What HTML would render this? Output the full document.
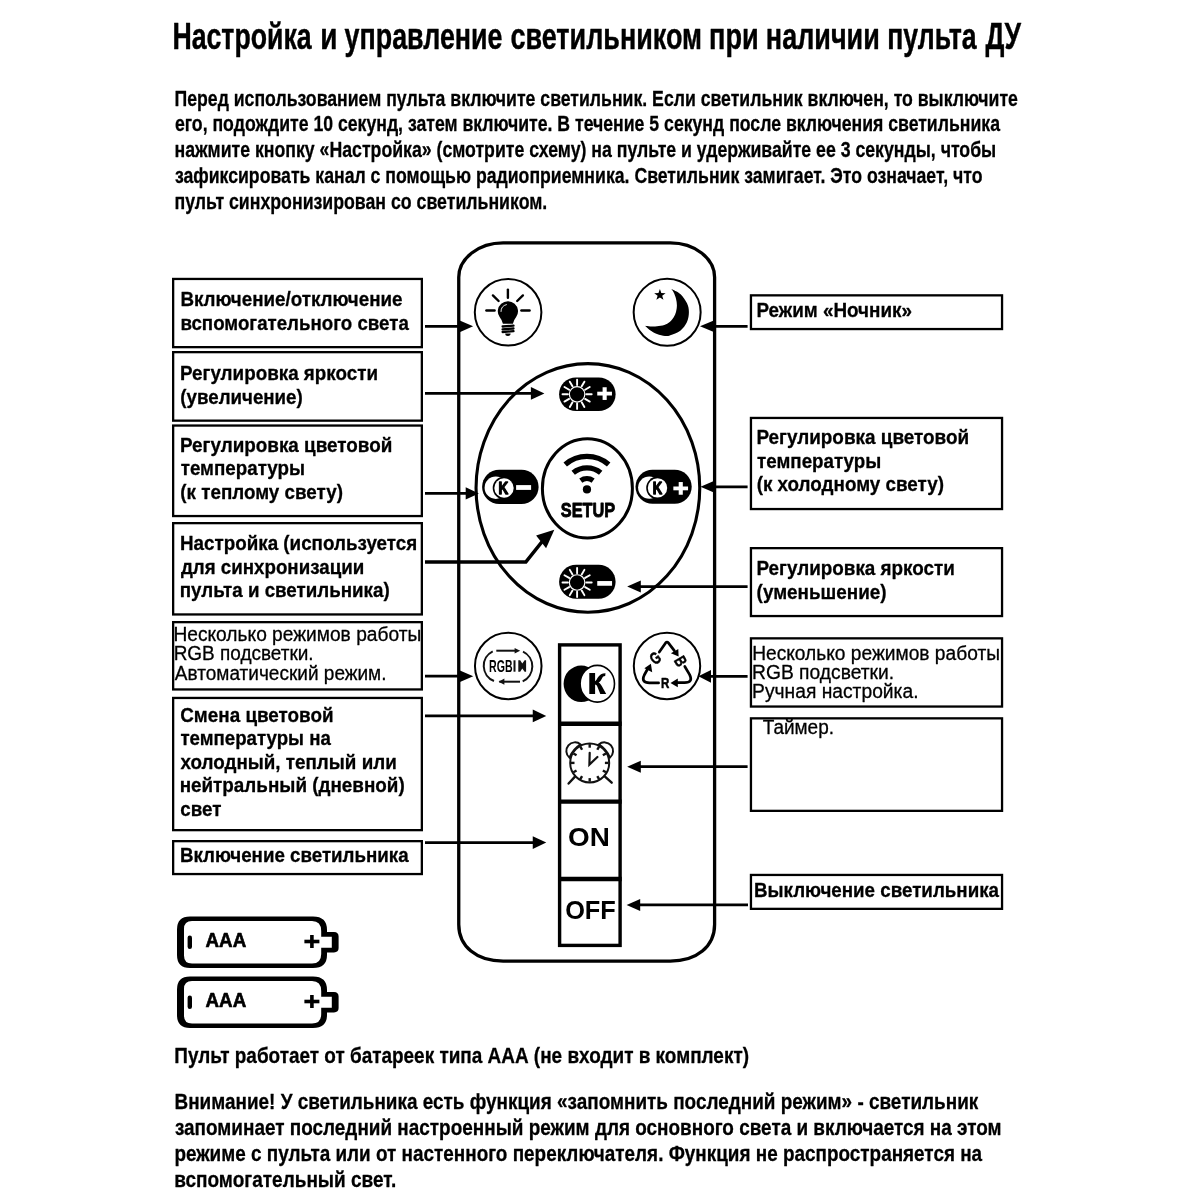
<!DOCTYPE html>
<html lang="ru"><head><meta charset="utf-8"><title>Настройка пульта ДУ</title>
<style>
html,body{margin:0;padding:0;background:#fff;}
body{width:1200px;height:1200px;overflow:hidden;font-family:"Liberation Sans",sans-serif;}
svg{display:block;position:absolute;left:0;top:0;will-change:transform;}
svg text{font-family:"Liberation Sans",sans-serif;fill:#000;}
</style></head><body>
<svg width="1200" height="1200" viewBox="0 0 1200 1200">
<rect width="1200" height="1200" fill="#fff"/>
<g id="boxes">
<rect x="173.15" y="278.95" width="248.70" height="68.20" fill="none" stroke="#000" stroke-width="2.3"/>
<rect x="173.15" y="352.15" width="248.70" height="68.50" fill="none" stroke="#000" stroke-width="2.3"/>
<rect x="173.15" y="425.55" width="248.70" height="90.50" fill="none" stroke="#000" stroke-width="2.3"/>
<rect x="173.15" y="523.15" width="248.70" height="91.30" fill="none" stroke="#000" stroke-width="2.3"/>
<rect x="173.15" y="622.15" width="248.70" height="67.30" fill="none" stroke="#000" stroke-width="2.3"/>
<rect x="173.15" y="697.95" width="248.70" height="132.20" fill="none" stroke="#000" stroke-width="2.3"/>
<rect x="173.15" y="841.15" width="248.70" height="32.90" fill="none" stroke="#000" stroke-width="2.3"/>
<rect x="750.95" y="295.35" width="251.10" height="33.70" fill="none" stroke="#000" stroke-width="2.3"/>
<rect x="750.95" y="417.95" width="251.10" height="91.10" fill="none" stroke="#000" stroke-width="2.3"/>
<rect x="750.95" y="548.15" width="251.10" height="67.90" fill="none" stroke="#000" stroke-width="2.3"/>
<rect x="750.95" y="638.35" width="251.10" height="68.20" fill="none" stroke="#000" stroke-width="2.3"/>
<rect x="750.95" y="718.35" width="251.10" height="92.50" fill="none" stroke="#000" stroke-width="2.3"/>
<rect x="750.95" y="874.95" width="251.10" height="33.90" fill="none" stroke="#000" stroke-width="2.3"/>
</g>
<g id="remote">
<path d="M458.75 277.3A44.4 34.4 0 0 1 503.15 242.9H670.2A44.4 34.4 0 0 1 714.6 277.3V924.4499999999999C714.6 946.41 696.84 961.05 670.2 961.05H503.15C476.51 961.05 458.75 946.41 458.75 924.4499999999999Z" fill="none" stroke="#000" stroke-width="3.3"/>
<circle cx="508.1" cy="312.3" r="33.3" fill="#fff" stroke="#000" stroke-width="2"/>
<circle cx="667.15" cy="312.35" r="33.5" fill="#fff" stroke="#000" stroke-width="2"/>
<ellipse cx="587.9" cy="487.9" rx="111.85" ry="124.3" fill="none" stroke="#000" stroke-width="3.1"/>
<ellipse cx="587.4" cy="488.4" rx="45" ry="49.6" fill="none" stroke="#000" stroke-width="3"/>
<rect x="559.1" y="377.4" width="56.50" height="33.70" rx="16.85" fill="#000"/>
<rect x="482.1" y="469.8" width="56.50" height="34.20" rx="17.10" fill="#000"/>
<rect x="635.5" y="469.8" width="56.20" height="34.00" rx="17.00" fill="#000"/>
<rect x="559.1" y="564.8" width="56.50" height="34.00" rx="17.00" fill="#000"/>
<circle cx="508.25" cy="666" r="33.3" fill="#fff" stroke="#000" stroke-width="2"/>
<circle cx="667" cy="665.95" r="33.2" fill="#fff" stroke="#000" stroke-width="2"/>
<rect x="559.6" y="644.9" width="60.5" height="300.5" fill="none" stroke="#000" stroke-width="3.4"/>
<path d="M558 723.75H621.7" stroke="#000" stroke-width="4.4"/>
<path d="M558 801.6H621.7" stroke="#000" stroke-width="4.4"/>
<path d="M558 879H621.7" stroke="#000" stroke-width="4.4"/>
</g>
<g id="arrows">
<path d="M425 326.3H460.1" stroke="#000" stroke-width="2.7" fill="none"/><path d="M473.1 326.3L459.1 320.2V332.40000000000003Z" fill="#000"/>
<path d="M425 393.4H531.9" stroke="#000" stroke-width="2.7" fill="none"/><path d="M544.4 393.4L530.9 387.0V399.79999999999995Z" fill="#000"/>
<path d="M425 493.4H466.7" stroke="#000" stroke-width="2.7" fill="none"/><path d="M478.9 493.4L465.7 487.2V499.59999999999997Z" fill="#000"/>
<path d="M425 562H525.8L543 540.5" stroke="#000" stroke-width="3.6" fill="none" stroke-linejoin="miter"/>
<path d="M554.3 529.8L536.1 535.5L546.1 548.3Z" fill="#000"/>
<path d="M425 676.2H459.75" stroke="#000" stroke-width="2.7" fill="none"/><path d="M473.25 676.2L458.75 669.9000000000001V682.5Z" fill="#000"/>
<path d="M425 715.9H533.75" stroke="#000" stroke-width="2.7" fill="none"/><path d="M546.25 715.9L532.75 709.5V722.3Z" fill="#000"/>
<path d="M425 842.6H533.75" stroke="#000" stroke-width="2.7" fill="none"/><path d="M546.25 842.6L532.75 836.2V849.0Z" fill="#000"/>
<path d="M747.6 326.3H714" stroke="#000" stroke-width="2.7" fill="none"/><path d="M700 326.3L715 320.0V332.6Z" fill="#000"/>
<path d="M747.6 486.8H714.0" stroke="#000" stroke-width="2.7" fill="none"/><path d="M700.5 486.8L715.0 480.5V493.1Z" fill="#000"/>
<path d="M747.6 586.6H639.8000000000001" stroke="#000" stroke-width="2.7" fill="none"/><path d="M627.2 586.6L640.8000000000001 580.6V592.6Z" fill="#000"/>
<path d="M747.6 676.3H710.0" stroke="#000" stroke-width="2.7" fill="none"/><path d="M698.4 676.3L711.0 669.9V682.6999999999999Z" fill="#000"/>
<path d="M747.6 766.7H639.8000000000001" stroke="#000" stroke-width="2.7" fill="none"/><path d="M627.2 766.7L640.8000000000001 760.7V772.7Z" fill="#000"/>
<path d="M748 904.9H639.2" stroke="#000" stroke-width="2.7" fill="none"/><path d="M626.6 904.9L640.2 898.9V910.9Z" fill="#000"/>
</g>
<g id="icons">
<g id="bulb">
<path d="M499.63 317.09000000000003A10.1 10.1 0 1 1 516.17 317.09000000000003Q513.5 320.5 512.9 323.8H502.9Q502.29999999999995 320.5 499.63 317.09000000000003Z" fill="#000"/>
<path d="M501.0 311.5a7 7 0 0 1 5.4-6.9" stroke="#fff" stroke-width="0.9" fill="none" stroke-linecap="round"/>
<path d="M502.59999999999997 326.5L513.5 325.70000000000005" stroke="#000" stroke-width="2.3" stroke-linecap="round"/>
<path d="M502.59999999999997 329.29999999999995L513.5 328.5" stroke="#000" stroke-width="2.3" stroke-linecap="round"/>
<path d="M502.59999999999997 332.0L513.5 331.20000000000005" stroke="#000" stroke-width="2.3" stroke-linecap="round"/>
<path d="M505.2 333.4h5.4a2.7 2.5 0 0 1-5.4 0z" fill="#000"/>
<path d="M507.9 289.6L507.9 297.8" stroke="#000" stroke-width="2.4" stroke-linecap="round"/>
<path d="M492.9 295.4L498.6 301.0" stroke="#000" stroke-width="2.4" stroke-linecap="round"/>
<path d="M522.9 295.4L517.2 301.0" stroke="#000" stroke-width="2.4" stroke-linecap="round"/>
<path d="M486.4 310.5L494.6 310.5" stroke="#000" stroke-width="2.4" stroke-linecap="round"/>
<path d="M521.4 310.5L529.6 310.5" stroke="#000" stroke-width="2.4" stroke-linecap="round"/>
</g>
<g id="moon">
<path d="M671.30 289.00C672.80 289.83 677.68 291.62 680.30 294.00C682.92 296.38 685.57 300.30 687.00 303.30C688.43 306.30 688.90 308.88 688.90 312.00C688.90 315.12 688.43 318.88 687.00 322.00C685.57 325.12 683.08 328.48 680.30 330.70C677.52 332.92 672.85 334.42 670.30 335.30C667.75 336.18 667.22 336.22 665.00 336.00C662.78 335.78 659.55 335.00 657.00 334.00C654.45 333.00 651.70 331.37 649.70 330.00C647.70 328.63 645.78 326.50 645.00 325.80L645.00 325.80C645.88 325.90 648.30 326.32 650.30 326.40C652.30 326.48 654.67 326.53 657.00 326.30C659.33 326.07 662.18 325.72 664.30 325.00C666.42 324.28 668.13 323.28 669.70 322.00C671.27 320.72 672.65 318.97 673.70 317.30C674.75 315.63 675.47 314.00 676.00 312.00C676.53 310.00 676.90 307.52 676.90 305.30C676.90 303.08 676.53 300.83 676.00 298.70C675.47 296.57 674.48 294.12 673.70 292.50C672.92 290.88 671.70 289.58 671.30 289.00Z" fill="#000"/>
<polygon points="659.90,289.00 661.31,293.06 665.61,293.15 662.18,295.74 663.43,299.85 659.90,297.40 656.37,299.85 657.62,295.74 654.19,293.15 658.49,293.06" fill="#000"/>
</g>
<g id="pills">
<circle cx="577.1" cy="394.3" r="7.75" fill="none" stroke="#fff" stroke-width="1.2"/><path d="M586.30 394.30L591.70 394.30" stroke="#fff" stroke-width="1.9" stroke-linecap="round"/><path d="M585.07 398.90L589.74 401.60" stroke="#fff" stroke-width="1.9" stroke-linecap="round"/><path d="M581.70 402.27L584.40 406.94" stroke="#fff" stroke-width="1.9" stroke-linecap="round"/><path d="M577.10 403.50L577.10 408.90" stroke="#fff" stroke-width="1.9" stroke-linecap="round"/><path d="M572.50 402.27L569.80 406.94" stroke="#fff" stroke-width="1.9" stroke-linecap="round"/><path d="M569.13 398.90L564.46 401.60" stroke="#fff" stroke-width="1.9" stroke-linecap="round"/><path d="M567.90 394.30L562.50 394.30" stroke="#fff" stroke-width="1.9" stroke-linecap="round"/><path d="M569.13 389.70L564.46 387.00" stroke="#fff" stroke-width="1.9" stroke-linecap="round"/><path d="M572.50 386.33L569.80 381.66" stroke="#fff" stroke-width="1.9" stroke-linecap="round"/><path d="M577.10 385.10L577.10 379.70" stroke="#fff" stroke-width="1.9" stroke-linecap="round"/><path d="M581.70 386.33L584.40 381.66" stroke="#fff" stroke-width="1.9" stroke-linecap="round"/><path d="M585.07 389.70L589.74 387.00" stroke="#fff" stroke-width="1.9" stroke-linecap="round"/>
<rect x="597.25" y="391.70" width="14.7" height="3.8" fill="#fff"/><rect x="602.60" y="387.25" width="4.1" height="12.7" fill="#fff"/>
<circle cx="577.1" cy="582.5" r="7.75" fill="none" stroke="#fff" stroke-width="1.2"/><path d="M586.30 582.50L591.70 582.50" stroke="#fff" stroke-width="1.9" stroke-linecap="round"/><path d="M585.07 587.10L589.74 589.80" stroke="#fff" stroke-width="1.9" stroke-linecap="round"/><path d="M581.70 590.47L584.40 595.14" stroke="#fff" stroke-width="1.9" stroke-linecap="round"/><path d="M577.10 591.70L577.10 597.10" stroke="#fff" stroke-width="1.9" stroke-linecap="round"/><path d="M572.50 590.47L569.80 595.14" stroke="#fff" stroke-width="1.9" stroke-linecap="round"/><path d="M569.13 587.10L564.46 589.80" stroke="#fff" stroke-width="1.9" stroke-linecap="round"/><path d="M567.90 582.50L562.50 582.50" stroke="#fff" stroke-width="1.9" stroke-linecap="round"/><path d="M569.13 577.90L564.46 575.20" stroke="#fff" stroke-width="1.9" stroke-linecap="round"/><path d="M572.50 574.53L569.80 569.86" stroke="#fff" stroke-width="1.9" stroke-linecap="round"/><path d="M577.10 573.30L577.10 567.90" stroke="#fff" stroke-width="1.9" stroke-linecap="round"/><path d="M581.70 574.53L584.40 569.86" stroke="#fff" stroke-width="1.9" stroke-linecap="round"/><path d="M585.07 577.90L589.74 575.20" stroke="#fff" stroke-width="1.9" stroke-linecap="round"/>
<rect x="597.25" y="581.05" width="14.8" height="4.7" fill="#fff"/>
<circle cx="495.8" cy="487.7" r="11.2" fill="#fff"/><circle cx="504.0" cy="488.0" r="11.3" fill="#000"/><circle cx="504.0" cy="488.0" r="9.7" fill="#fff"/>
<rect x="516.10" y="485.10" width="15" height="4.8" fill="#fff"/>
<circle cx="649.3" cy="487.6" r="11.2" fill="#fff"/><circle cx="657.5" cy="487.90000000000003" r="11.3" fill="#000"/><circle cx="657.5" cy="487.90000000000003" r="9.7" fill="#fff"/>
<rect x="673.35" y="486.50" width="14.7" height="3.8" fill="#fff"/><rect x="678.70" y="482.05" width="4.1" height="12.7" fill="#fff"/>
</g>
<g id="wifi" fill="none" stroke="#000" stroke-width="5.3">
<path d="M565.23 464.42A33.1 33.1 0 0 1 608.67 464.42"/>
<path d="M573.21 472.73A21.6 21.6 0 0 1 600.69 472.73"/>
<path d="M580.76 480.55A10.8 10.8 0 0 1 593.14 480.55"/>
</g>
<circle cx="586.95" cy="489.4" r="4.1" fill="#000"/>
<g id="rgbauto" stroke="#111" fill="none" stroke-width="2">
<path d="M496.3 650.7H517"/>
<path d="M499.3 681.7H520" />
<path d="M492.7 651.3A16.3 16.3 0 0 0 494 681"/>
<path d="M523 651.7A16.3 16.3 0 0 1 522.7 681.3"/>
</g>
<path d="M520.2 650.7L514.6 647.9V653.5Z" fill="#111"/>
<path d="M498.6 681.7L504.4 678.6V684.8Z" fill="#111"/>
<rect x="513.5" y="660.3" width="2" height="11.4" fill="#111"/>
<path d="M518.3 660.3H520.2L522.3 663.6L524.6 660.3H526.1V671.7H524.6L522.3 668.4L520.2 671.7H518.3Z" fill="#111"/>
<g id="rgbman" stroke="#000" fill="none" stroke-width="2.7" stroke-linejoin="round" stroke-linecap="round">
<path d="M659.3 652.1L665.6 642.9Q667 641.2 668.4 642.9L674.3 650.6"/>
<path d="M684.8 666.5L689.6 674.6Q693.6 682.6 684.5 682.7H677"/>
<path d="M658.6 682.9H649.5Q640.6 682.6 644.3 675L647.6 669"/>
</g>
<text transform="translate(655.3 658) rotate(-38) scale(0.74 1)" x="0" y="5.7" text-anchor="middle" font-size="16.5" font-weight="bold" stroke="#000" stroke-width="0.5">G</text>
<text transform="translate(680.7 661.3) rotate(60) scale(0.74 1)" x="0" y="5.7" text-anchor="middle" font-size="16.5" font-weight="bold" stroke="#000" stroke-width="0.5">B</text>
<path d="M678.6 656.6L670.9 653.2L678.3 648.9Z" fill="#000"/>
<path d="M670.5 682.9L677.8 678.6V687.2Z" fill="#000"/>
<path d="M650.9 663.7L652.2 672.3L644.4 668.2Z" fill="#000"/>
<g id="kbig">
<ellipse cx="581.2" cy="683.8" rx="17.6" ry="18.3" fill="#000"/>
<ellipse cx="597.3" cy="683.75" rx="17.2" ry="18.4" fill="#fff" stroke="#000" stroke-width="1.6"/>
<path d="M589.3 673H595.1V681.2C597.6 679.8 598 673.2 605.5 673.2L605.2 675.9C601.2 676 602.4 680.6 598.6 682.6C601 683.4 603.4 689.4 606.2 693.9H600.3L597.3 686.6C596.6 685.2 595.9 684.7 595.1 684.6V693.9H589.3Z" fill="#000"/>
</g>
<g id="clock" stroke="#111" fill="none" stroke-width="2" stroke-linecap="round">
<path d="M569.4 757.6A8.4 8.4 0 0 1 580.6 744.4Q573.2 749 569.4 757.6Z" fill="#fff"/>
<path d="M610.0 757.6A8.4 8.4 0 0 0 598.8 744.4Q606.2 749 610.0 757.6Z" fill="#fff"/>
<circle cx="589.7" cy="762.9" r="19.5" fill="#fff"/>
<path d="M608.50 762.90L604.90 762.90" stroke-width="2.4" stroke-linecap="butt"/>
<path d="M605.98 772.30L602.86 770.50" stroke-width="2.4" stroke-linecap="butt"/>
<path d="M599.10 779.18L597.30 776.06" stroke-width="2.4" stroke-linecap="butt"/>
<path d="M589.70 781.70L589.70 778.10" stroke-width="2.4" stroke-linecap="butt"/>
<path d="M580.30 779.18L582.10 776.06" stroke-width="2.4" stroke-linecap="butt"/>
<path d="M573.42 772.30L576.54 770.50" stroke-width="2.4" stroke-linecap="butt"/>
<path d="M570.90 762.90L574.50 762.90" stroke-width="2.4" stroke-linecap="butt"/>
<path d="M573.42 753.50L576.54 755.30" stroke-width="2.4" stroke-linecap="butt"/>
<path d="M580.30 746.62L582.10 749.74" stroke-width="2.4" stroke-linecap="butt"/>
<path d="M589.70 744.10L589.70 747.70" stroke-width="2.4" stroke-linecap="butt"/>
<path d="M599.10 746.62L597.30 749.74" stroke-width="2.4" stroke-linecap="butt"/>
<path d="M605.98 753.50L602.86 755.30" stroke-width="2.4" stroke-linecap="butt"/>
<path d="M589.7 752.8L589.4 764.6L597.4 757" stroke-width="2.2" stroke-linejoin="miter"/>
<path d="M575 776.6L568.6 783.5" stroke-width="2.4"/>
<path d="M605 776.6L611.7 782.7" stroke-width="2.4"/>
</g>
<g id="batt">
<path d="M190 916.6H313Q327 916.6 327 930V932H334Q338.6 932 338.6 936.6V948Q338.6 952.4 334 952.4H327V955Q327 968 313 968H190Q177 968 177 955V929.6Q177 916.6 190 916.6Z" fill="#000"/><path d="M192 921H312Q321.2 921 321.2 931V936.8H331.8V947.8H321.2V954Q321.2 963.6 312 963.6H192Q184 963.6 184 955.6V929Q184 921 192 921Z" fill="#fff"/><rect x="187.6" y="935.6" width="4.4" height="13.4" rx="2.2" fill="#000"/><rect x="304.4" y="939.7" width="15" height="3.6" fill="#000"/><rect x="310.1" y="935" width="3.6" height="13" fill="#000"/>
<path d="M190 976.6H313Q327 976.6 327 990V992H334Q338.6 992 338.6 996.6V1008Q338.6 1012.4 334 1012.4H327V1015Q327 1028 313 1028H190Q177 1028 177 1015V989.6Q177 976.6 190 976.6Z" fill="#000"/><path d="M192 981H312Q321.2 981 321.2 991V996.8H331.8V1007.8H321.2V1014Q321.2 1023.6 312 1023.6H192Q184 1023.6 184 1015.6V989Q184 981 192 981Z" fill="#fff"/><rect x="187.6" y="995.6" width="4.4" height="13.4" rx="2.2" fill="#000"/><rect x="304.4" y="999.7" width="15" height="3.6" fill="#000"/><rect x="310.1" y="995" width="3.6" height="13" fill="#000"/>
</g>
</g>
<g id="texts">
<text x="172.41" y="48.80" font-size="37.8" textLength="139.20" lengthAdjust="spacingAndGlyphs" font-weight="bold" stroke="#000" stroke-width="0.45" stroke-linejoin="round">Настройка</text>
<text x="320.13" y="48.80" font-size="37.8" textLength="17.23" lengthAdjust="spacingAndGlyphs" font-weight="bold" stroke="#000" stroke-width="0.45" stroke-linejoin="round">и</text>
<text x="344.57" y="48.80" font-size="37.8" textLength="157.99" lengthAdjust="spacingAndGlyphs" font-weight="bold" stroke="#000" stroke-width="0.45" stroke-linejoin="round">управление</text>
<text x="510.48" y="48.80" font-size="37.8" textLength="191.56" lengthAdjust="spacingAndGlyphs" font-weight="bold" stroke="#000" stroke-width="0.45" stroke-linejoin="round">светильником</text>
<text x="709.02" y="48.80" font-size="37.8" textLength="49.63" lengthAdjust="spacingAndGlyphs" font-weight="bold" stroke="#000" stroke-width="0.45" stroke-linejoin="round">при</text>
<text x="765.86" y="48.80" font-size="37.8" textLength="113.86" lengthAdjust="spacingAndGlyphs" font-weight="bold" stroke="#000" stroke-width="0.45" stroke-linejoin="round">наличии</text>
<text x="887.28" y="48.80" font-size="37.8" textLength="89.42" lengthAdjust="spacingAndGlyphs" font-weight="bold" stroke="#000" stroke-width="0.45" stroke-linejoin="round">пульта</text>
<text x="985.42" y="48.80" font-size="37.8" textLength="35.71" lengthAdjust="spacingAndGlyphs" font-weight="bold" stroke="#000" stroke-width="0.45" stroke-linejoin="round">ДУ</text>
<text x="174.54" y="105.50" font-size="22.8" textLength="843.40" lengthAdjust="spacingAndGlyphs" font-weight="bold" stroke="#000" stroke-width="0.3" stroke-linejoin="round">Перед использованием пульта включите светильник. Если светильник включен, то выключите</text>
<text x="174.93" y="131.40" font-size="22.8" textLength="825.05" lengthAdjust="spacingAndGlyphs" font-weight="bold" stroke="#000" stroke-width="0.3" stroke-linejoin="round">его, подождите 10 секунд, затем включите. В течение 5 секунд после включения светильника</text>
<text x="174.52" y="157.00" font-size="22.8" textLength="821.69" lengthAdjust="spacingAndGlyphs" font-weight="bold" stroke="#000" stroke-width="0.3" stroke-linejoin="round">нажмите кнопку «Настройка» (смотрите схему) на пульте и удерживайте ее 3 секунды, чтобы</text>
<text x="174.88" y="182.80" font-size="22.8" textLength="807.67" lengthAdjust="spacingAndGlyphs" font-weight="bold" stroke="#000" stroke-width="0.3" stroke-linejoin="round">зафиксировать канал с помощью радиоприемника. Светильник замигает. Это означает, что</text>
<text x="174.50" y="208.60" font-size="22.8" textLength="372.74" lengthAdjust="spacingAndGlyphs" font-weight="bold" stroke="#000" stroke-width="0.3" stroke-linejoin="round">пульт синхронизирован со светильником.</text>
<text x="180.43" y="305.80" font-size="21" textLength="222.11" lengthAdjust="spacingAndGlyphs" font-weight="bold" stroke="#000" stroke-width="0.3" stroke-linejoin="round">Включение/отключение</text>
<text x="180.43" y="329.60" font-size="21" textLength="228.37" lengthAdjust="spacingAndGlyphs" font-weight="bold" stroke="#000" stroke-width="0.3" stroke-linejoin="round">вспомогательного света</text>
<text x="179.98" y="380.00" font-size="21" textLength="198.07" lengthAdjust="spacingAndGlyphs" font-weight="bold" stroke="#000" stroke-width="0.3" stroke-linejoin="round">Регулировка яркости</text>
<text x="180.35" y="403.75" font-size="21" textLength="122.37" lengthAdjust="spacingAndGlyphs" font-weight="bold" stroke="#000" stroke-width="0.3" stroke-linejoin="round">(увеличение)</text>
<text x="179.96" y="451.50" font-size="21" textLength="212.37" lengthAdjust="spacingAndGlyphs" font-weight="bold" stroke="#000" stroke-width="0.3" stroke-linejoin="round">Регулировка цветовой</text>
<text x="180.70" y="474.50" font-size="21" textLength="124.30" lengthAdjust="spacingAndGlyphs" font-weight="bold" stroke="#000" stroke-width="0.3" stroke-linejoin="round">температуры</text>
<text x="180.31" y="498.75" font-size="21" textLength="162.64" lengthAdjust="spacingAndGlyphs" font-weight="bold" stroke="#000" stroke-width="0.3" stroke-linejoin="round">(к теплому свету)</text>
<text x="179.98" y="550.40" font-size="21" textLength="237.24" lengthAdjust="spacingAndGlyphs" font-weight="bold" stroke="#000" stroke-width="0.3" stroke-linejoin="round">Настройка (используется</text>
<text x="180.93" y="573.75" font-size="21" textLength="183.28" lengthAdjust="spacingAndGlyphs" font-weight="bold" stroke="#000" stroke-width="0.3" stroke-linejoin="round">для синхронизации</text>
<text x="179.71" y="597.00" font-size="21" textLength="209.97" lengthAdjust="spacingAndGlyphs" font-weight="bold" stroke="#000" stroke-width="0.3" stroke-linejoin="round">пульта и светильника)</text>
<text x="173.42" y="640.70" font-size="20" textLength="247.84" lengthAdjust="spacingAndGlyphs" stroke="#000" stroke-width="0.3" stroke-linejoin="round">Несколько режимов работы</text>
<text x="173.66" y="660.20" font-size="20" textLength="139.95" lengthAdjust="spacingAndGlyphs" stroke="#000" stroke-width="0.3" stroke-linejoin="round">RGB подсветки.</text>
<text x="174.87" y="679.70" font-size="20" textLength="211.61" lengthAdjust="spacingAndGlyphs" stroke="#000" stroke-width="0.3" stroke-linejoin="round">Автоматический режим.</text>
<text x="180.22" y="722.10" font-size="21" textLength="153.33" lengthAdjust="spacingAndGlyphs" font-weight="bold" stroke="#000" stroke-width="0.3" stroke-linejoin="round">Смена цветовой</text>
<text x="180.48" y="745.40" font-size="21" textLength="150.34" lengthAdjust="spacingAndGlyphs" font-weight="bold" stroke="#000" stroke-width="0.3" stroke-linejoin="round">температуры на</text>
<text x="180.51" y="769.00" font-size="21" textLength="216.20" lengthAdjust="spacingAndGlyphs" font-weight="bold" stroke="#000" stroke-width="0.3" stroke-linejoin="round">холодный, теплый или</text>
<text x="179.66" y="792.30" font-size="21" textLength="225.00" lengthAdjust="spacingAndGlyphs" font-weight="bold" stroke="#000" stroke-width="0.3" stroke-linejoin="round">нейтральный (дневной)</text>
<text x="180.35" y="816.00" font-size="21" textLength="41.10" lengthAdjust="spacingAndGlyphs" font-weight="bold" stroke="#000" stroke-width="0.3" stroke-linejoin="round">свет</text>
<text x="179.99" y="861.70" font-size="21" textLength="228.67" lengthAdjust="spacingAndGlyphs" font-weight="bold" stroke="#000" stroke-width="0.3" stroke-linejoin="round">Включение светильника</text>
<text x="756.43" y="317.00" font-size="21" textLength="155.53" lengthAdjust="spacingAndGlyphs" font-weight="bold" stroke="#000" stroke-width="0.3" stroke-linejoin="round">Режим «Ночник»</text>
<text x="756.38" y="444.00" font-size="21" textLength="212.77" lengthAdjust="spacingAndGlyphs" font-weight="bold" stroke="#000" stroke-width="0.3" stroke-linejoin="round">Регулировка цветовой</text>
<text x="757.08" y="467.50" font-size="21" textLength="124.16" lengthAdjust="spacingAndGlyphs" font-weight="bold" stroke="#000" stroke-width="0.3" stroke-linejoin="round">температуры</text>
<text x="756.63" y="491.25" font-size="21" textLength="187.36" lengthAdjust="spacingAndGlyphs" font-weight="bold" stroke="#000" stroke-width="0.3" stroke-linejoin="round">(к холодному свету)</text>
<text x="756.43" y="575.40" font-size="21" textLength="198.50" lengthAdjust="spacingAndGlyphs" font-weight="bold" stroke="#000" stroke-width="0.3" stroke-linejoin="round">Регулировка яркости</text>
<text x="756.61" y="599.10" font-size="21" textLength="129.97" lengthAdjust="spacingAndGlyphs" font-weight="bold" stroke="#000" stroke-width="0.3" stroke-linejoin="round">(уменьшение)</text>
<text x="752.13" y="659.50" font-size="20" textLength="247.87" lengthAdjust="spacingAndGlyphs" stroke="#000" stroke-width="0.3" stroke-linejoin="round">Несколько режимов работы</text>
<text x="752.07" y="679.00" font-size="20" textLength="142.02" lengthAdjust="spacingAndGlyphs" stroke="#000" stroke-width="0.3" stroke-linejoin="round">RGB подсветки.</text>
<text x="752.07" y="698.40" font-size="20" textLength="166.42" lengthAdjust="spacingAndGlyphs" stroke="#000" stroke-width="0.3" stroke-linejoin="round">Ручная настройка.</text>
<text x="762.65" y="733.70" font-size="20" textLength="71.35" lengthAdjust="spacingAndGlyphs" stroke="#000" stroke-width="0.3" stroke-linejoin="round">Таймер.</text>
<text x="753.99" y="896.50" font-size="21" textLength="245.05" lengthAdjust="spacingAndGlyphs" font-weight="bold" stroke="#000" stroke-width="0.3" stroke-linejoin="round">Выключение светильника</text>
<text x="174.32" y="1063.10" font-size="22.8" textLength="574.66" lengthAdjust="spacingAndGlyphs" font-weight="bold" stroke="#000" stroke-width="0.3" stroke-linejoin="round">Пульт работает от батареек типа ААА (не входит в комплект)</text>
<text x="174.49" y="1108.80" font-size="22.8" textLength="803.77" lengthAdjust="spacingAndGlyphs" font-weight="bold" stroke="#000" stroke-width="0.3" stroke-linejoin="round">Внимание! У светильника есть функция «запомнить последний режим» - светильник</text>
<text x="174.93" y="1134.80" font-size="22.8" textLength="826.67" lengthAdjust="spacingAndGlyphs" font-weight="bold" stroke="#000" stroke-width="0.3" stroke-linejoin="round">запоминает последний настроенный режим для основного света и включается на этом</text>
<text x="174.40" y="1161.00" font-size="22.8" textLength="807.74" lengthAdjust="spacingAndGlyphs" font-weight="bold" stroke="#000" stroke-width="0.3" stroke-linejoin="round">режиме с пульта или от настенного переключателя. Функция не распространяется на</text>
<text x="174.26" y="1187.00" font-size="22.8" textLength="222.04" lengthAdjust="spacingAndGlyphs" font-weight="bold" stroke="#000" stroke-width="0.3" stroke-linejoin="round">вспомогательный свет.</text>
<text x="560.85" y="516.50" font-size="21" textLength="54.27" lengthAdjust="spacingAndGlyphs" font-weight="bold" stroke="#000" stroke-width="0.9" stroke-linejoin="round">SETUP</text>
<text x="568.06" y="845.50" font-size="26" textLength="41.77" lengthAdjust="spacingAndGlyphs" font-weight="bold">ON</text>
<text x="565.14" y="919.25" font-size="25.5" textLength="50.71" lengthAdjust="spacingAndGlyphs" font-weight="bold">OFF</text>
<text x="205.57" y="947.00" font-size="20" textLength="40.69" lengthAdjust="spacingAndGlyphs" font-weight="bold" stroke="#000" stroke-width="0.7" stroke-linejoin="round">AAA</text>
<text x="205.57" y="1007.00" font-size="20" textLength="40.69" lengthAdjust="spacingAndGlyphs" font-weight="bold" stroke="#000" stroke-width="0.7" stroke-linejoin="round">AAA</text>
<text x="489.10" y="671.70" font-size="16.5" textLength="23.48" lengthAdjust="spacingAndGlyphs" font-weight="bold">RGB</text>
<text x="498.57" y="493.50" font-size="16.5" textLength="9.71" lengthAdjust="spacingAndGlyphs" font-weight="bold" stroke="#000" stroke-width="1.3" stroke-linejoin="round">K</text>
<text x="652.86" y="493.50" font-size="16.5" textLength="9.39" lengthAdjust="spacingAndGlyphs" font-weight="bold" stroke="#000" stroke-width="1.3" stroke-linejoin="round">K</text>
<text x="660.99" y="688.30" font-size="15.4" textLength="8.35" lengthAdjust="spacingAndGlyphs" font-weight="bold" stroke="#000" stroke-width="0.5" stroke-linejoin="round">R</text>
</g>
</svg>
</body></html>
